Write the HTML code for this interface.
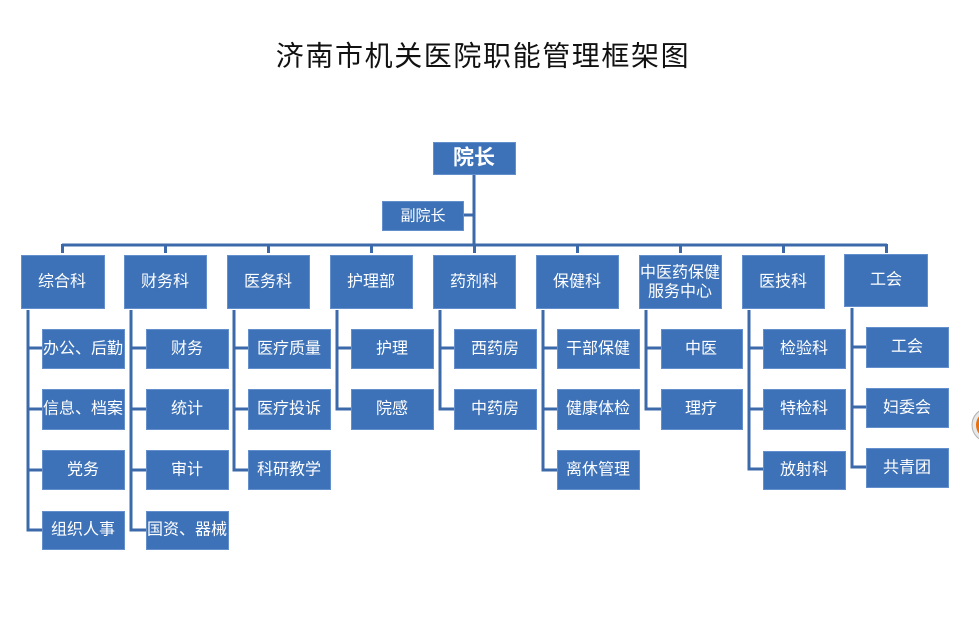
<!DOCTYPE html>
<html><head><meta charset="utf-8"><style>
html,body{margin:0;padding:0;background:#fff;}
svg{display:block;}
text{font-family:"Liberation Sans","Noto Sans CJK SC",sans-serif;fill:#fff;text-anchor:middle;dominant-baseline:central;}
.t{fill:#111;font-size:28px;letter-spacing:1.6px;}
</style></head><body>
<svg width="979" height="622" viewBox="0 0 979 622" xmlns="http://www.w3.org/2000/svg">
<text class="t" x="483" y="56">济南市机关医院职能管理框架图</text>
<g stroke="#3b69a9" stroke-width="3" fill="none">
<path d="M474 174V245M463 215H474M62 245H887"/>
<path d="M62.5 244V253M165.5 244V253M268.5 244V253M371.5 244V253M474.5 244V253M577.5 244V253M680.5 244V253M783.5 244V253M886.5 244V253"/>
<path d="M28 310V530H42M28 348H42M28 409H42M28 470H42"/>
<path d="M131 310V530H146M131 348H146M131 409H146M131 470H146"/>
<path d="M234 310V470H248M234 348H248M234 409H248"/>
<path d="M337 310V409H351M337 348H351"/>
<path d="M440 310V409H454M440 348H454"/>
<path d="M543 310V470H557M543 348H557M543 409H557"/>
<path d="M646 310V409H661M646 348H661"/>
<path d="M749 310V469H763M749 348H763M749 409H763"/>
<path d="M852 308V467H866M852 347H866M852 407H866"/>
</g>
<g fill="#3d72b8" stroke="#6390cc" stroke-width="1">
<rect x="433.5" y="142.5" width="82" height="32"/>
<rect x="382.5" y="201.5" width="81" height="29"/>
<rect x="21.5" y="255.5" width="83" height="53"/>
<rect x="124.5" y="255.5" width="82" height="53"/>
<rect x="227.5" y="255.5" width="82" height="53"/>
<rect x="330.5" y="255.5" width="82" height="53"/>
<rect x="433.5" y="255.5" width="82" height="53"/>
<rect x="536.5" y="255.5" width="82" height="53"/>
<rect x="639.5" y="255.5" width="82" height="53"/>
<rect x="742.5" y="255.5" width="82" height="53"/>
<rect x="844.5" y="254.5" width="83" height="52"/>
<!-- col1 -->
<rect x="42.5" y="329.5" width="82" height="39"/>
<rect x="42.5" y="389.5" width="82" height="40"/>
<rect x="42.5" y="450.5" width="82" height="39"/>
<rect x="42.5" y="511.5" width="82" height="38"/>
<!-- col2 -->
<rect x="146.5" y="329.5" width="82" height="39"/>
<rect x="146.5" y="389.5" width="82" height="40"/>
<rect x="146.5" y="450.5" width="82" height="39"/>
<rect x="146.5" y="511.5" width="82" height="38"/>
<!-- col3 -->
<rect x="248.5" y="329.5" width="82" height="39"/>
<rect x="248.5" y="389.5" width="82" height="40"/>
<rect x="248.5" y="450.5" width="82" height="39"/>
<!-- col4 -->
<rect x="351.5" y="329.5" width="82" height="39"/>
<rect x="351.5" y="389.5" width="82" height="40"/>
<!-- col5 -->
<rect x="454.5" y="329.5" width="82" height="39"/>
<rect x="454.5" y="389.5" width="82" height="40"/>
<!-- col6 -->
<rect x="557.5" y="329.5" width="82" height="39"/>
<rect x="557.5" y="389.5" width="82" height="40"/>
<rect x="557.5" y="450.5" width="82" height="39"/>
<!-- col7 -->
<rect x="661.5" y="329.5" width="81" height="39"/>
<rect x="661.5" y="389.5" width="81" height="40"/>
<!-- col8 -->
<rect x="763.5" y="329.5" width="82" height="39"/>
<rect x="763.5" y="389.5" width="82" height="40"/>
<rect x="763.5" y="451.5" width="82" height="38"/>
<!-- col9 -->
<rect x="866.5" y="327.5" width="82" height="40"/>
<rect x="866.5" y="388.5" width="82" height="39"/>
<rect x="866.5" y="448.5" width="82" height="39"/>
</g>
<text x="474" y="158" style="font-size:21px;font-weight:bold">院长</text>
<text x="423" y="216" style="font-size:15px">副院长</text>
<g style="font-size:16px">
<text x="62" y="282">综合科</text>
<text x="165" y="282">财务科</text>
<text x="268" y="282">医务科</text>
<text x="371" y="282">护理部</text>
<text x="474" y="282">药剂科</text>
<text x="577" y="282">保健科</text>
<text x="680" y="273">中医药保健</text>
<text x="680" y="292">服务中心</text>
<text x="783" y="282">医技科</text>
<text x="886" y="280">工会</text>

<text x="83" y="349">办公、后勤</text>
<text x="83" y="409">信息、档案</text>
<text x="83" y="470">党务</text>
<text x="83" y="530">组织人事</text>

<text x="187" y="349">财务</text>
<text x="187" y="409">统计</text>
<text x="187" y="470">审计</text>
<text x="187" y="530">国资、器械</text>

<text x="289" y="349">医疗质量</text>
<text x="289" y="409">医疗投诉</text>
<text x="289" y="470">科研教学</text>

<text x="392" y="349">护理</text>
<text x="392" y="409">院感</text>

<text x="495" y="349">西药房</text>
<text x="495" y="409">中药房</text>

<text x="598" y="349">干部保健</text>
<text x="598" y="409">健康体检</text>
<text x="598" y="470">离休管理</text>

<text x="701" y="349">中医</text>
<text x="701" y="409">理疗</text>

<text x="804" y="349">检验科</text>
<text x="804" y="409">特检科</text>
<text x="804" y="470">放射科</text>

<text x="907" y="347">工会</text>
<text x="907" y="408">妇委会</text>
<text x="907" y="468">共青团</text>
</g>
<circle cx="989" cy="425" r="17" fill="#e8e8e8" stroke="#b0b0b0" stroke-width="1"/>
<circle cx="990" cy="425" r="14" fill="#e8700f"/>
</svg>
</body></html>
